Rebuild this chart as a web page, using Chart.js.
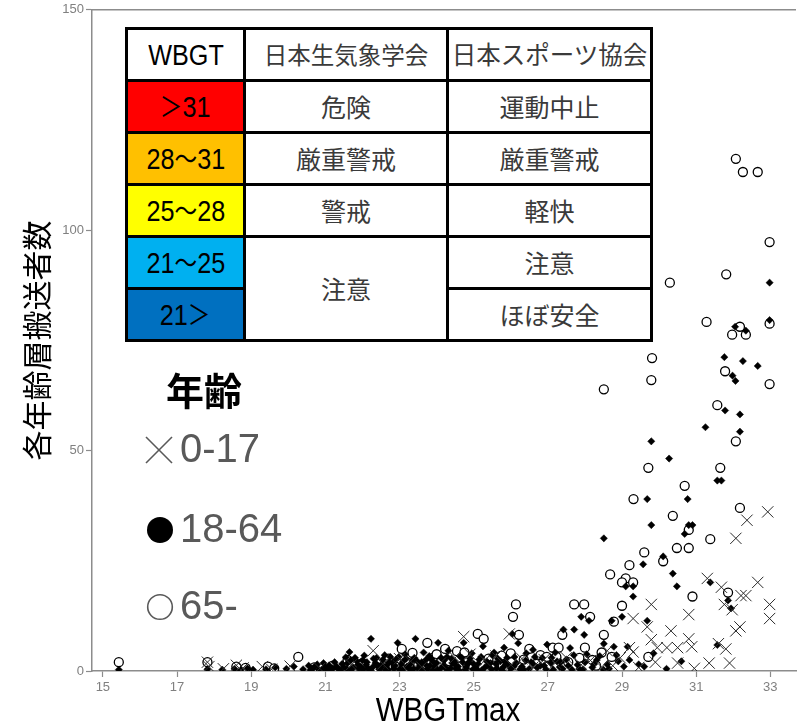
<!DOCTYPE html>
<html lang="ja">
<head>
<meta charset="utf-8">
<script src="https://cdn.jsdelivr.net/npm/chart.js@4.4.1/dist/chart.umd.min.js"></script>
<style>
  html, body { margin: 0; padding: 0; background: #fff; }
  #wrap { position: relative; width: 805px; height: 726px; overflow: hidden; }
  #c { position: absolute; left: 0; top: 0; }
  #scale {
    position: absolute; left: 125px; top: 27px; width: 525px;
    border-collapse: collapse; table-layout: fixed; background: #fff;
  }
  #scale td {
    border: 3px solid #000; height: 49px; padding: 0; text-align: center; vertical-align: middle;
    font-family: "Noto Sans CJK JP", sans-serif; font-size: 25px; color: #3a3a3a; white-space: nowrap;
    line-height: 1;
  }
  #scale td.h2 { font-size: 23.5px; }
  #scale td.h3 { font-size: 24.5px; }
  #scale td.lvl { color: #000; }
  .narrow { display: inline-block; transform: scaleX(0.84); font-family: "Liberation Sans", Arial, sans-serif; font-size: 30px; color: #000; }
  .narrow .j { font-family: "Noto Sans CJK JP", sans-serif; font-size: 27px; }
  .leg { position: absolute; font-family: "Liberation Sans", Arial, sans-serif; font-size: 40px; color: #595959; line-height: 40px; white-space: nowrap; }
  #legTitle { position: absolute; left: 166px; top: 370px; font-family: "Noto Sans CJK JP", sans-serif; font-weight: bold; font-size: 38px; line-height: 38px; color: #000; }
  #legSym { position: absolute; left: 0; top: 0; }
  #xTitle {
    position: absolute; left: 348px; width: 200px; top: 692px; text-align: center;
    font-family: "Liberation Sans", Arial, sans-serif; font-size: 34px; line-height: 34px; color: #000;
    transform: scaleX(0.87);
  }
</style>
</head>
<body>
<div id="wrap">
  <canvas id="c" width="805" height="726"></canvas>

  <table id="scale">
    <colgroup><col style="width:118px"><col style="width:203px"><col style="width:204px"></colgroup>
    <tr><td class="lvl"><span class="narrow">WBGT</span></td><td class="h2">日本生気象学会</td><td class="h3">日本スポーツ協会</td></tr>
    <tr><td class="lvl" style="background:#ff0000"><span class="narrow"><span class="j">＞</span>31</span></td><td>危険</td><td>運動中止</td></tr>
    <tr><td class="lvl" style="background:#ffc000"><span class="narrow">28<span class="j">〜</span>31</span></td><td>厳重警戒</td><td>厳重警戒</td></tr>
    <tr><td class="lvl" style="background:#ffff00"><span class="narrow">25<span class="j">〜</span>28</span></td><td>警戒</td><td>軽快</td></tr>
    <tr><td class="lvl" style="background:#00b0f0"><span class="narrow">21<span class="j">〜</span>25</span></td><td rowspan="2">注意</td><td>注意</td></tr>
    <tr><td class="lvl" style="background:#0070c0"><span class="narrow">21<span class="j">＞</span></span></td><td>ほぼ安全</td></tr>
  </table>

  <div id="legTitle">年齢</div>
  <svg id="legSym" width="200" height="726">
    <line x1="146" y1="437" x2="172" y2="463" stroke="#595959" stroke-width="1.6"/>
    <line x1="172" y1="437" x2="146" y2="463" stroke="#595959" stroke-width="1.6"/>
    <circle cx="160" cy="530" r="13" fill="#000"/>
    <circle cx="160" cy="607" r="12.3" fill="none" stroke="#595959" stroke-width="1.6"/>
  </svg>
  <div class="leg" style="left:180px; top:428px;">0-17</div>
  <div class="leg" style="left:180px; top:508px;">18-64</div>
  <div class="leg" style="left:180px; top:585px;">65-</div>
  <div id="xTitle">WBGTmax</div>
</div>

<script>
// Axis ticks
const xTicks = [15, 17, 19, 21, 23, 25, 27, 29, 31, 33];
const yTicks = [0, 50, 100, 150];

// Daily emergency transports by age group: [WBGTmax, count]
const age0to17 = [
  [32.93, 36.1], [32.37, 34.2], [32.07, 30.1], [31.3, 21.0], [32.66, 20.1], [31.68, 19.0],
  [32.21, 17.1], [32.34, 17.1], [29.79, 15.1], [31.76, 15.1], [32.98, 15.1], [31.97, 13.9],
  [30.8, 12.8], [29.3, 11.9], [32.98, 11.9], [29.68, 10.0], [32.18, 10.0], [30.32, 9.1],
  [32.07, 9.1], [29.79, 7.1], [30.8, 7.3], [30.88, 5.5], [31.6, 6.2], [31.8, 5.0],
  [29.95, 5.3], [30.21, 5.3], [30.5, 5.3], [29.2, 5.3], [29.3, 4.3], [30.5, 1.8],
  [31.35, 1.8], [31.9, 1.8], [30.95, 0.6], [29.9, 2.0], [29.45, 0.8], [28.75, 1.2],
  [28.95, 3.0],
  [17.82, 2.0], [17.86, 1.0], [18.25, 0.5], [18.6, 1.3], [18.78, 0.7], [19.3, 1.0],
  [19.55, 0.4], [20.05, 1.1], [20.85, 0.6], [21.7, 1.4], [22.29, 4.6], [22.55, 1.6],
  [23.0, 2.8], [23.3, 2.2], [23.6, 0.9], [24.1, 1.8], [24.5, 3.0], [24.73, 7.8],
  [24.9, 3.8], [25.3, 2.4], [25.6, 3.4], [25.96, 8.4], [26.0, 1.4], [26.3, 2.8],
  [26.6, 0.9], [26.9, 2.6], [27.2, 1.8], [27.5, 3.0], [27.9, 1.4], [28.15, 2.4],
  [28.45, 0.9], [28.6, 4.6]
];

const age18to64 = [
  [32.98, 88.1], [32.98, 79.6], [32.05, 78.1], [32.34, 77.2], [31.76, 71.2], [32.26, 70.3],
  [32.66, 69.2], [31.98, 67.0], [32.06, 65.8], [31.78, 59.1], [32.18, 58.2], [31.25, 55.3],
  [32.18, 54.3], [29.79, 52.1], [30.27, 48.2], [31.57, 43.2], [31.68, 43.2], [29.68, 39.0],
  [30.77, 39.0], [29.79, 33.1], [30.8, 33.1], [30.9, 33.1], [30.69, 31.1], [28.51, 30.1],
  [30.11, 26.0], [29.57, 24.2], [30.37, 22.1], [31.38, 20.1], [29.1, 19.2], [29.3, 19.2],
  [30.48, 19.2], [29.3, 16.9], [31.86, 16.0], [31.94, 14.2], [29.0, 12.3], [29.68, 11.4],
  [31.57, 5.9], [29.85, 4.0], [30.6, 2.2], [29.6, 1.0], [30.2, 0.5],
  [15.43, 0.3], [17.82, 0.4], [18.22, 0.3], [18.55, 0.5], [18.72, 0.2], [18.9, 0.6],
  [19.05, 0.3], [19.4, 0.4], [19.65, 0.8], [19.95, 0.5], [20.15, 1.0], [20.4, 0.4],
  [20.55, 1.2], [20.65, 0.5], [20.78, 1.5], [20.9, 0.3], [21.0, 0.9], [21.35, 0.5],
  [21.45, 1.6], [21.55, 3.1], [21.65, 4.3], [21.75, 0.8], [21.85, 2.2], [21.95, 1.0],
  [22.05, 3.5], [22.15, 0.6], [22.23, 7.3], [22.35, 1.8], [22.45, 0.4], [22.55, 2.6],
  [22.65, 1.2], [22.75, 3.2], [22.85, 0.5], [22.95, 6.4], [23.05, 1.6], [23.15, 3.8],
  [23.25, 0.7], [23.35, 2.4], [23.43, 7.3], [23.55, 1.3], [23.65, 4.2], [23.75, 0.4],
  [23.85, 2.8], [23.95, 1.0], [24.04, 6.4], [24.12, 3.0], [24.22, 0.8], [24.32, 4.6],
  [24.42, 1.8], [24.52, 0.5], [24.62, 3.4], [24.73, 6.4], [24.83, 1.5], [24.95, 4.0],
  [25.05, 0.7], [25.15, 2.6], [25.25, 5.6], [25.38, 1.2], [25.5, 3.6], [25.62, 0.6],
  [25.72, 2.2], [25.82, 5.3], [25.93, 1.4], [26.04, 8.4], [26.1, 3.2], [26.2, 6.3],
  [26.3, 1.0], [26.42, 4.0], [26.55, 2.0], [26.6, 4.8], [26.72, 0.8], [26.85, 3.0],
  [26.98, 6.0], [27.08, 1.8], [27.2, 4.2], [27.32, 0.9], [27.42, 9.4], [27.5, 2.6],
  [27.6, 5.2], [27.71, 9.4], [27.8, 1.4], [27.9, 12.3], [27.98, 8.2], [28.05, 3.8],
  [28.11, 11.4], [28.2, 0.8], [28.32, 2.5], [28.51, 6.2], [28.6, 1.5], [28.72, 11.4],
  [28.78, 5.5], [28.9, 2.2], [29.15, 5.5], [29.45, 1.5],
  [20.6, 0.2], [20.7, 0.9], [20.82, 0.3], [21.05, 0.2], [21.1, 1.3], [21.2, 0.6],
  [21.25, 2.0], [21.4, 0.2], [21.5, 0.9], [21.6, 1.8], [21.7, 0.3], [21.8, 3.0],
  [21.9, 0.5], [22.0, 2.4], [22.1, 1.4], [22.2, 0.2], [22.3, 2.8], [22.4, 1.2],
  [22.5, 0.8], [22.6, 3.6], [22.7, 0.3], [22.8, 1.8], [22.9, 2.6], [23.0, 0.4],
  [23.1, 2.2], [23.2, 1.0], [23.3, 0.3], [23.4, 3.0], [23.5, 0.6], [23.6, 2.0],
  [23.7, 1.5], [23.8, 3.4], [23.9, 0.2], [24.0, 1.8], [24.1, 0.5], [24.2, 2.4],
  [24.3, 0.3], [24.4, 2.8], [24.5, 1.4], [24.6, 0.2], [24.7, 2.0], [24.8, 0.9],
  [24.9, 2.8], [25.0, 1.6], [25.1, 0.3], [25.2, 3.2], [25.3, 0.8], [25.45, 1.8],
  [25.55, 4.2], [25.65, 2.8], [25.8, 0.9], [25.9, 3.0], [26.0, 0.5], [26.15, 1.8],
  [26.25, 0.4], [26.4, 2.4], [26.5, 0.5], [26.65, 3.2], [26.8, 1.2], [26.95, 0.4],
  [27.1, 3.0], [27.25, 2.2], [27.4, 0.5], [27.55, 1.2], [27.7, 3.6], [27.85, 0.5],
  [28.0, 2.0], [28.4, 3.4], [28.65, 0.5], [28.85, 3.6], [29.05, 1.0], [29.2, 2.5],
  [20.95, 1.8], [21.15, 0.4], [21.3, 1.0], [21.58, 0.5], [21.68, 2.4], [21.88, 1.4],
  [22.02, 0.3], [22.12, 2.0], [22.28, 0.9], [22.38, 3.0], [22.52, 1.5], [22.62, 0.2],
  [22.72, 2.0], [22.88, 1.2], [22.98, 3.2], [23.08, 0.2], [23.18, 2.8], [23.28, 1.5],
  [23.38, 0.5], [23.48, 2.2], [23.62, 0.3], [23.72, 2.6], [23.82, 1.2], [23.92, 2.0],
  [24.02, 0.2], [24.18, 1.2], [24.28, 3.2], [24.38, 0.6], [24.48, 2.2], [24.58, 1.0],
  [24.68, 3.0], [24.78, 0.2], [24.88, 2.0], [24.98, 0.4], [25.12, 1.6], [25.22, 0.2],
  [25.35, 2.2], [25.48, 0.4], [25.6, 1.6], [25.75, 0.3], [25.85, 2.0], [26.08, 1.0],
  [26.35, 0.3], [26.6, 1.6], [26.9, 1.2], [27.15, 0.3], [27.35, 2.0], [27.65, 0.3],
  [27.95, 0.4], [28.25, 1.6], [28.5, 0.3]
];

const age65plus = [
  [32.07, 116.2], [32.26, 113.2], [32.66, 113.2], [32.98, 97.3], [31.81, 90.0], [30.29, 88.1],
  [31.28, 79.2], [32.98, 78.8], [32.18, 78.1], [31.97, 76.3], [32.34, 76.3], [29.81, 71.0],
  [31.78, 68.0], [29.79, 66.0], [32.98, 65.1], [28.51, 63.9], [31.57, 60.3], [32.07, 52.1],
  [29.71, 46.1], [31.65, 46.1], [30.69, 42.0], [29.31, 39.0], [32.18, 37.0], [30.37, 35.2],
  [30.8, 32.0], [31.38, 29.9], [30.48, 27.9], [30.8, 27.9], [29.6, 26.9], [30.11, 24.9],
  [29.2, 24.0], [28.68, 21.9], [29.1, 21.0], [29.0, 20.1], [29.3, 20.1], [31.86, 17.8],
  [30.9, 16.9], [29.0, 14.8], [29.71, 3.2], [28.72, 3.2],
  [15.43, 2.0], [17.82, 2.0], [18.6, 1.0], [18.85, 0.7], [19.45, 1.0], [19.62, 0.6],
  [20.27, 3.2], [20.7, 0.8], [21.2, 1.2], [21.6, 2.5], [22.0, 1.8], [22.4, 0.8],
  [22.7, 2.8], [23.06, 5.0], [23.2, 2.0], [23.35, 4.1], [23.5, 1.2], [23.75, 6.4],
  [23.9, 3.0], [24.23, 5.0], [24.35, 2.2], [24.55, 4.5], [24.75, 4.2], [24.9, 1.5],
  [25.11, 8.4], [25.27, 7.3], [25.4, 2.8], [25.55, 1.2], [25.75, 3.5], [26.0, 4.0],
  [26.06, 12.3], [26.14, 15.1], [26.22, 8.2], [26.35, 2.6], [26.5, 5.0], [26.68, 1.6],
  [26.8, 3.6], [26.97, 3.2], [27.13, 5.3], [27.23, 3.2], [27.29, 5.3], [27.39, 8.2],
  [27.55, 2.0], [27.71, 15.1], [27.85, 3.0], [27.98, 15.1], [28.14, 12.3], [28.3, 1.2],
  [28.45, 4.2], [28.51, 8.2], [28.78, 11.2],
  [22.9, 1.0], [24.0, 3.8], [24.6, 1.0], [25.9, 1.0], [27.0, 1.0], [28.0, 5.3], [28.2, 2.5]
];

const toPoints = rows => rows.map(([x, y]) => ({ x, y }));

// Horizontal line closing the plot at the top
const topBorder = {
  id: 'topBorder',
  afterDraw(chart) {
    const { ctx, chartArea: a } = chart;
    ctx.save();
    ctx.strokeStyle = '#8c8c8c';
    ctx.lineWidth = 1.5;
    ctx.beginPath();
    ctx.moveTo(a.left, a.top);
    ctx.lineTo(a.right, a.top);
    ctx.stroke();
    ctx.restore();
  }
};

const tickFont = { family: '"Liberation Sans", Arial, sans-serif', size: 13 };

new Chart(document.getElementById('c'), {
  type: 'scatter',
  data: {
    datasets: [
      {
        label: '0-17', data: toPoints(age0to17), order: 0, clip: 0,
        pointStyle: 'crossRot', pointRadius: 8, borderColor: '#2a2a2a', borderWidth: 1,
        backgroundColor: 'rgba(0,0,0,0)'
      },
      {
        label: '18-64', data: toPoints(age18to64), order: 1, clip: 0,
        pointStyle: 'rectRot', pointRadius: 3.6, borderColor: '#000', borderWidth: 0.5,
        backgroundColor: '#000'
      },
      {
        label: '65-', data: toPoints(age65plus), order: 2, clip: 0,
        pointStyle: 'circle', pointRadius: 4.5, borderColor: '#000', borderWidth: 1.3,
        backgroundColor: '#fff'
      }
    ]
  },
  options: {
    responsive: false,
    animation: false,
    devicePixelRatio: 1,
    layout: { padding: 0 },
    plugins: { legend: { display: false }, tooltip: { enabled: false } },
    scales: {
      x: {
        type: 'linear',
        min: 14.707,
        max: 33.692,
        afterBuildTicks: s => { s.ticks = xTicks.map(v => ({ value: v })); },
        afterFit: s => { s.height = 55; },
        grid: { drawOnChartArea: false, drawTicks: true, tickLength: 6, tickColor: '#8c8c8c', tickWidth: 1.2 },
        border: { display: true, color: '#8c8c8c', width: 1.5 },
        ticks: { color: '#808080', font: tickFont, padding: 3, maxRotation: 0, autoSkip: false }
      },
      y: {
        type: 'linear',
        min: 0,
        max: 150,
        afterBuildTicks: s => { s.ticks = yTicks.map(v => ({ value: v })); },
        afterFit: s => { s.width = 92; },
        grid: { drawOnChartArea: false, drawTicks: true, tickLength: 6, tickColor: '#8c8c8c', tickWidth: 1.2 },
        border: { display: true, color: '#8c8c8c', width: 1.5 },
        ticks: { color: '#808080', font: tickFont, padding: 2 },
        title: {
          display: true, text: '各年齢層搬送者数', color: '#000',
          font: { family: '"Noto Sans CJK JP", sans-serif', size: 30, lineHeight: 1 },
          padding: { top: 22, bottom: 0 }
        }
      }
    }
  },
  plugins: [topBorder]
});
</script>
</body>
</html>
